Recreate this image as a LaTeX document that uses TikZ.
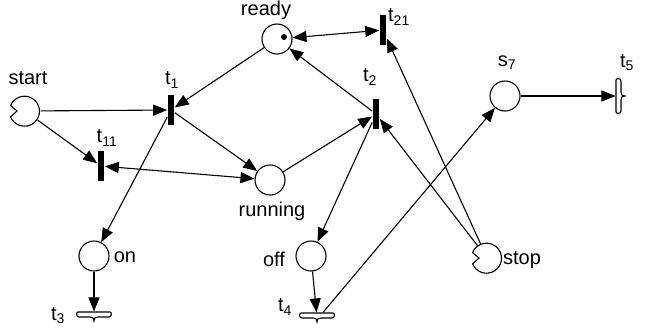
\documentclass[tikz,border=0pt]{standalone}
\usepackage{fontspec}
\setmainfont{Liberation Sans}
\usetikzlibrary{arrows.meta}

% place with a notch on its left side
\newcommand{\pacman}[1]{\draw (#1.202) arc[start angle=202, end angle=518, radius=15pt] -- ([xshift=-8pt]#1.center) -- cycle;}
% flat source/sink transition, point down (rotate 90 for point right)
\newcommand{\sinkbar}[2]{\draw[shift={(#1)}, rotate=#2] (-16,4) -- (16,4) .. controls (18,4) and (18,-1) .. (15,-1) -- (4,-1) .. controls (1,-1) and (0,-2) .. (0,-5) .. controls (0,-2) and (-1,-1) .. (-4,-1) -- (-15,-1) .. controls (-18,-1) and (-18,4) .. (-16,4) -- cycle;}

\begin{document}
\begin{tikzpicture}[x=1pt, y=1pt, line width=1.1pt, >={Triangle[length=14pt,width=11pt]},
    font=\fontsize{20}{24}\selectfont,
    place/.style={circle,draw,minimum size=30pt,inner sep=0pt},
    trans/.style={rectangle,fill=black,minimum width=6.5pt,minimum height=30pt,inner sep=0pt},
    sinkh/.style={rectangle,minimum width=33pt,minimum height=8pt,inner sep=0pt},
    sinkv/.style={rectangle,minimum width=8pt,minimum height=33pt,inner sep=0pt}]

    \useasboundingbox (0,0) rectangle (645,-327);

    \node[place,draw=none] at (25,-111) (start) {};
    \node[place] at (277,-39) (ready) {};
    \node[place] at (270,-180) (running) {};
    \node[place] at (94,-256) (on) {};
    \node[place] at (311,-256) (off) {};
    \node[place,draw=none] at (487,-258) (stop) {};
    \node[place] at (505,-96) (s7) {};
    \pacman{start}
    \pacman{stop}
    \fill ([xshift=7pt,yshift=2pt]ready.center) circle (3pt);

    \node[trans] at (171,-110) (t1) {};
    \node[trans] at (101,-166) (t11) {};
    \node[trans] at (376,-114) (t2) {};
    \node[trans] at (383,-30) (t21) {};
    \node[sinkh] at (94,-316) (t3) {};
    \node[sinkh] at (317,-317) (t4) {};
    \node[sinkv] at (620,-96) (t5) {};
    \sinkbar{t3.center}{0}
    \sinkbar{t4.center}{0}
    \sinkbar{t5.center}{90}

    \node at (28,-78) (lstart) {start};
    \node at (266,-10) (lready) {ready};
    \node at (272,-211) (lrunning) {running};
    \node at (125,-257) (lon) {on};
    \node at (274,-259) (loff) {off};
    \node at (522,-260) (lstop) {stop};
    \node at (507,-63) (ls7) {s\textsubscript{7}};
    \node at (172,-80) (lt1) {t\textsubscript{1}};
    \node at (107,-138) (lt11) {t\textsubscript{11}};
    \node at (370,-77) (lt2) {t\textsubscript{2}};
    \node at (399,-17) (lt21) {t\textsubscript{21}};
    \node at (58,-316) (lt3) {t\textsubscript{3}};
    \node at (285,-307) (lt4) {t\textsubscript{4}};
    \node at (627,-63) (lt5) {t\textsubscript{5}};

    \path[->] (start) edge (t1);
    \path[->] (start) edge (t11);
    \path[->] (ready) edge (t1);
    \path[->] (t1) edge (running);
    \path[->] (t1) edge (on);
    \path[<->] (t11) edge (running);
    \path[->] (running) edge (t2);
    \path[->] (t2) edge (ready);
    \path[->] (t2) edge (off);
    \path[->] (stop) edge (t2);
    \path[->] (stop) edge (t21);
    \path[<->] (ready) edge (t21);
    \path[->] (on) edge (t3);
    \path[->] (off) edge (t4);
    \path[->] ([xshift=6pt]t4.north) edge (s7);
    \path[->] (s7) edge (t5);
\end{tikzpicture}
\end{document}
